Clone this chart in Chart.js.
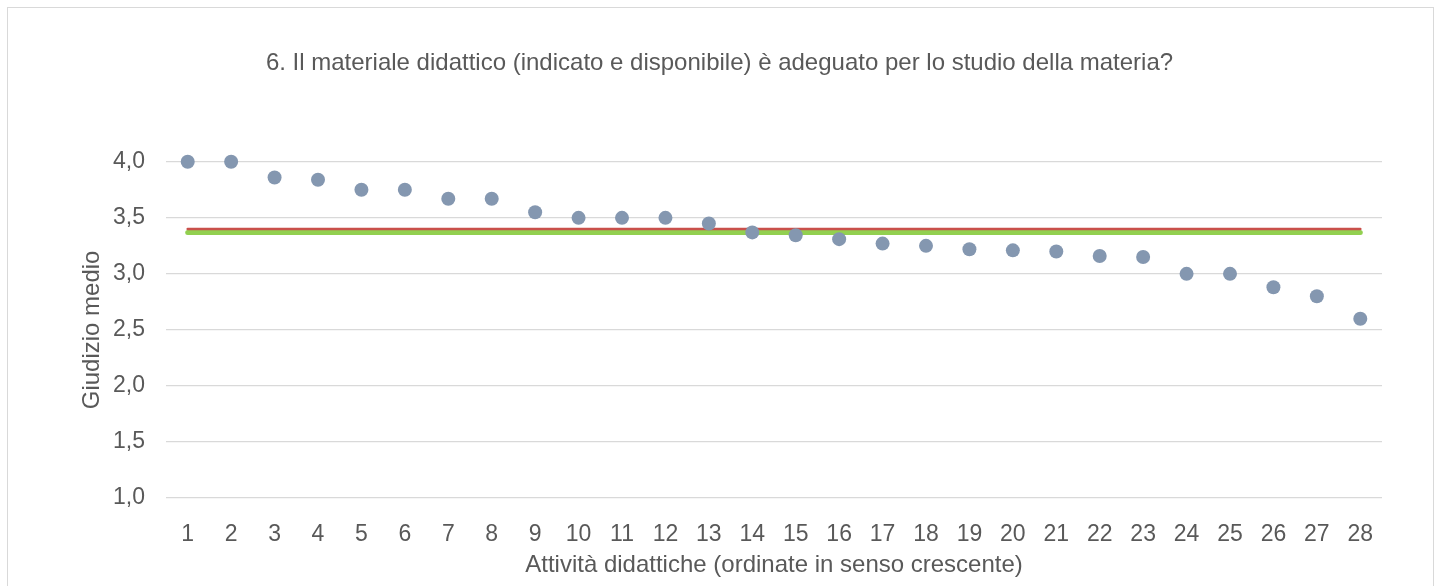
<!DOCTYPE html>
<html lang="it">
<head>
  <meta charset="UTF-8" />
  <title>Materiale didattico</title>
  <script src="https://cdn.jsdelivr.net/npm/chart.js"></script>
  <style>
    html, body { margin: 0; padding: 0; background: #fff; overflow: hidden; }
    #frame {
      position: absolute; left: 7px; top: 7px; width: 1427px; height: 640px;
      border: 1px solid #d9d9d9; box-sizing: border-box;
    }
    #wrap { position: absolute; left: 0; top: 0; width: 1439px; height: 586px; }
  </style>
</head>
<body>
  <div id="frame"></div>
  <div id="wrap"><canvas id="giudiziChart" width="1439" height="586"></canvas></div>

  <script>
    // Dati
    const attivita = ['1','2','3','4','5','6','7','8','9','10','11','12','13','14',
                      '15','16','17','18','19','20','21','22','23','24','25','26','27','28'];
    const giudizi = [4.00, 4.00, 3.86, 3.84, 3.75, 3.75, 3.67, 3.67, 3.55, 3.50,
                     3.50, 3.50, 3.45, 3.37, 3.345, 3.31, 3.27, 3.25, 3.22, 3.21,
                     3.20, 3.16, 3.15, 3.00, 3.00, 2.88, 2.80, 2.60];
    const mediaRossa = 3.40;
    const mediaVerde = 3.37;
    const tickY = [1.0, 1.5, 2.0, 2.5, 3.0, 3.5, 4.0];

    const FONT = "'Liberation Sans', Arial, sans-serif";
    const GREY = '#595959';

    const primo = attivita[0];
    const ultimo = attivita[attivita.length - 1];

    const ctx = document.getElementById('giudiziChart').getContext('2d');
    new Chart(ctx, {
      type: 'line',
      data: {
        labels: attivita,
        datasets: [
          {
            label: 'Giudizio medio',
            data: giudizi,
            showLine: false,
            clip: false,
            pointRadius: 7,
            pointHoverRadius: 7,
            pointBackgroundColor: '#8497B0',
            pointBorderColor: '#8497B0',
            pointBorderWidth: 0,
            order: 0
          },
          {
            label: 'Media',
            data: [{ x: primo, y: mediaRossa }, { x: ultimo, y: mediaRossa }],
            borderColor: '#C9504B',
            borderWidth: 2.5,
            borderCapStyle: 'round',
            pointRadius: 0,
            order: 1
          },
          {
            label: 'Mediana',
            data: [{ x: primo, y: mediaVerde }, { x: ultimo, y: mediaVerde }],
            borderColor: '#92D050',
            borderWidth: 5,
            borderCapStyle: 'round',
            pointRadius: 0,
            order: 2
          }
        ]
      },
      options: {
        responsive: false,
        animation: false,
        events: [],
        layout: { padding: 0 },
        plugins: {
          legend: { display: false },
          tooltip: { enabled: false },
          title: {
            display: true,
            text: '6. Il materiale didattico (indicato e disponibile) è adeguato per lo studio della materia?',
            color: GREY,
            font: { family: FONT, size: 24, weight: 'normal' },
            padding: { top: 49, bottom: 84 }
          }
        },
        scales: {
          x: {
            offset: true,
            grid: { display: false },
            border: { display: false },
            ticks: { color: GREY, font: { family: FONT, size: 23 }, padding: 15, maxRotation: 0, autoSkip: false },
            title: {
              display: true,
              text: 'Attività didattiche (ordinate in senso crescente)',
              color: GREY,
              font: { family: FONT, size: 24 },
              padding: { top: 0, bottom: 6 }
            },
            afterFit: (scale) => { scale.height = 88; }
          },
          y: {
            min: 1,
            max: 4,
            grid: { color: '#d9d9d9', lineWidth: 1.3, drawTicks: false },
            border: { display: false },
            afterBuildTicks: (scale) => { scale.ticks = tickY.map(v => ({ value: v })); },
            ticks: {
              color: GREY,
              font: { family: FONT, size: 23 },
              padding: 21,
              callback: (v) => Number(v).toFixed(1).replace('.', ',')
            },
            title: {
              display: true,
              text: 'Giudizio medio',
              color: GREY,
              font: { family: FONT, size: 24 },
              padding: { top: 78, bottom: 0 }
            },
            afterFit: (scale) => { scale.width = 166; }
          },
          // asse vuoto a destra: solo per lasciare il margine come nell'originale
          destra: {
            position: 'right',
            grid: { display: false },
            border: { display: false },
            ticks: { display: false },
            afterFit: (scale) => { scale.width = 57; }
          }
        }
      }
    });
  </script>
</body>
</html>
